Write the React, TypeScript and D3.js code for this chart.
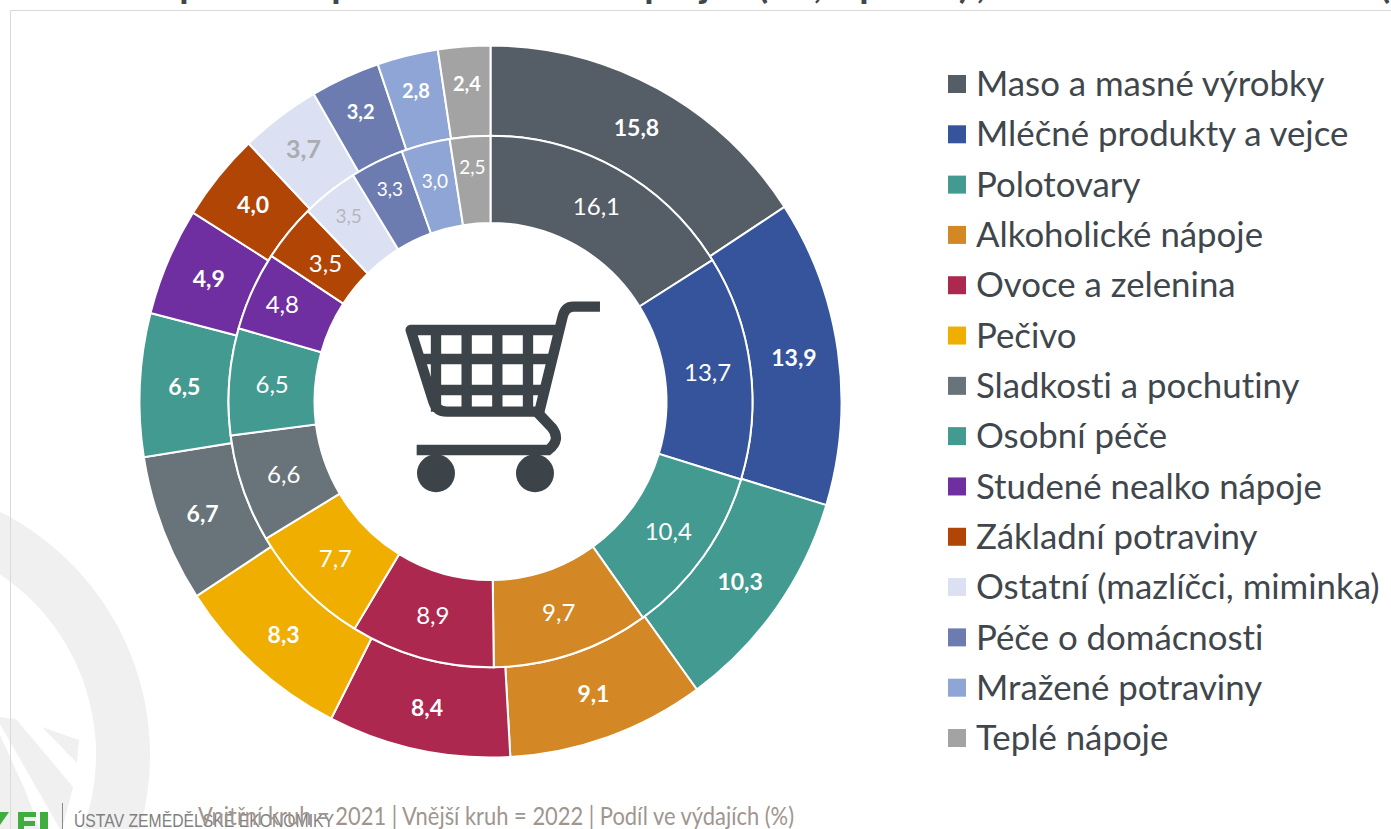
import React from "react";
import * as d3 from "d3";

const categories = [
  "Maso a masné výrobky",
  "Mléčné produkty a vejce",
  "Polotovary",
  "Alkoholické nápoje",
  "Ovoce a zelenina",
  "Pečivo",
  "Sladkosti a pochutiny",
  "Osobní péče",
  "Studené nealko nápoje",
  "Základní potraviny",
  "Ostatní (mazlíčci, miminka)",
  "Péče o domácnosti",
  "Mražené potraviny",
  "Teplé nápoje",
];
const values2021 = [16.1, 13.7, 10.4, 9.7, 8.9, 7.7, 6.6, 6.5, 4.8, 3.5, 3.5, 3.3, 3.0, 2.5];
const values2022 = [15.8, 13.9, 10.3, 9.1, 8.4, 8.3, 6.7, 6.5, 4.9, 4.0, 3.7, 3.2, 2.8, 2.4];
const colors = [
  "#555e66", "#35549b", "#429a90", "#d38825", "#ad284f", "#f0ae00", "#69747a",
  "#429a90", "#702fa0", "#b14506", "#dbe1f2", "#6d7cb0", "#8ea5d6", "#a3a3a3",
];
// only the descenders of the cut off heading are visible
const titleGlyphs = ["p", "p", "p", "j", "(", ",", "p", ")", ",", "("];
const titleGlyphX = [190, 342, 655, 705, 763, 818, 870, 964, 981, 1385];

const footerText = "Vnitřní kruh = 2021 | Vnější kruh = 2022 | Podíl ve výdajích (%)";
const instituteText = "ÚSTAV ZEMĚDĚLSKÉ EKONOMIKY";

const width = 1391;
const height = 829;
const cx = 490.5;
const cy = 401.5;
const stretch = 1.0143; // picture is a bit taller than wide
const rHole = 176;
const rMid = 262;
const rOuter = 351;

// a few labels sit off the middle of their slice, radial shift in px by slice index
const innerNudge: Record<number, number> = { 8: 10, 9: -5, 10: 12, 11: 13, 12: 5, 13: 13 };
const outerNudge: Record<number, number> = { 4: 2, 5: 3, 6: 2, 10: 5, 11: 7, 12: 9, 13: 7 };

const font = "Lato, sans-serif";
const textColor = "#3f474d";

const pie = d3.pie<number>().sort(null).value((d) => d);
const fmt = (v: number) => v.toFixed(1).replace(".", ",");

const Ring = ({ values, r0, r1, bold }: { values: number[]; r0: number; r1: number; bold: boolean }) => {
  const arc = d3.arc<d3.PieArcDatum<number>>().innerRadius(r0).outerRadius(r1);
  const arcs = pie(values);
  const nudge = bold ? outerNudge : innerNudge;
  return (
    <g>
      <g transform={`translate(${cx},${cy}) scale(1,${stretch})`}>
        {arcs.map((a, i) => (
          <path key={i} d={arc(a) ?? ""} fill={colors[i]} stroke="#fff" strokeWidth={2} />
        ))}
      </g>
      {arcs.map((a, i) => {
        const [x, y] = arc.centroid(a);
        const k = 1 + (nudge[i] ?? 0) / ((r0 + r1) / 2);
        const light = i === 10;
        const small = a.data < 3.4;
        let size = small ? 20 : 23;
        if (!bold) size = small ? 19 : 24;
        if (!bold && light) size = 19;
        if (bold && light) size = 25;
        return (
          <text
            key={i}
            x={cx + x * k}
            y={cy + y * k * stretch}
            dy="0.35em"
            textAnchor="middle"
            fontFamily={font}
            fontSize={size}
            fontWeight={bold ? 700 : 400}
            fill={light ? (bold ? "#a9acb3" : "#b4b8c0") : "#fff"}
          >
            {fmt(a.data)}
          </text>
        );
      })}
    </g>
  );
};

const Cart = () => (
  <g transform="translate(390,290) scale(0.3333)" fill="none" stroke="#3d4449" strokeWidth={31}>
    <path d="M630,50 H550 Q525,50 518,80 L448,365 H170 Q140,365 130,335 L62,120 H505" strokeLinejoin="round" />
    <path d="M138,120 V365 M230,120 V365 M322,120 V365 M414,120 V365" />
    <path d="M85,207 H480 M110,300 H460" />
    <path d="M440,365 L485,412 Q515,450 475,480 H80" />
    <circle cx={138} cy={550} r={57} fill="#3d4449" stroke="none" />
    <circle cx={435} cy={550} r={57} fill="#3d4449" stroke="none" />
  </g>
);

const Watermark = () => {
  const ring = d3.arc()({
    innerRadius: 218,
    outerRadius: 272,
    startAngle: 0,
    endAngle: Math.PI * 2,
  });
  return (
    <g fill="#f0f0f0">
      <path d={ring ?? ""} transform="translate(-122,755)" />
      <path d="M0,717 L16,719 L73,787 L62,829 L60,829 L0,724 Z" />
      <path d="M42,727 L79,740 L77,763 Z" />
      <path d="M0,735 L25,790 L40,829 L0,829 Z" />
    </g>
  );
};

const Logo = () => (
  <g fill="#3fae3f">
    <path d="M0,812 H9 L0,825 Z" />
    <path d="M18,812 H36 V817 H24 V821 H35 V826 H24 V829 H18 Z" />
    <path d="M40,812 H48 V829 H40 Z" />
  </g>
);

export default function App() {
  return (
    <svg
      width={width}
      height={height}
      viewBox={`0 0 ${width} ${height}`}
      style={{ position: "absolute", left: 0, top: 0, display: "block", background: "#fff" }}
    >
      <Watermark />
      <path d={`M10.5,${height} V10.5 H${width}`} fill="none" stroke="#d9d9d9" strokeWidth={1} />

      {titleGlyphs.map((g, i) => (
        <text key={i} x={titleGlyphX[i]} y={-2} textAnchor="middle" fontFamily={font} fontWeight={700} fontSize={38} fill={textColor}>
          {g}
        </text>
      ))}

      <Ring values={values2022} r0={rMid} r1={rOuter} bold />
      <Ring values={values2021} r0={rHole} r1={rMid} bold={false} />
      <Cart />

      {categories.map((c, i) => {
        const y = d3.scaleLinear().domain([0, categories.length - 1]).range([84, 738])(i);
        return (
          <g key={c}>
            <rect x={948} y={y - 9} width={18} height={18} fill={colors[i]} />
            <text
              x={976}
              y={y}
              dy="0.35em"
              fontFamily={font}
              fontSize={34.8}
              fill={textColor}
              style={{ fontVariantLigatures: "none" }}
            >
              {c}
            </text>
          </g>
        );
      })}

      <Logo />
      <rect x={62} y={803} width={1} height={26} fill="#888" />
      <text x={74} y={827} fontFamily="'Liberation Sans', sans-serif" fontSize={18} fill="#808080" textLength={260} lengthAdjust="spacingAndGlyphs">
        {instituteText}
      </text>
      <text x={198} y={825} fontFamily={font} fontSize={25} fill="#a0958f" textLength={596} lengthAdjust="spacingAndGlyphs">
        {footerText}
      </text>
    </svg>
  );
}
